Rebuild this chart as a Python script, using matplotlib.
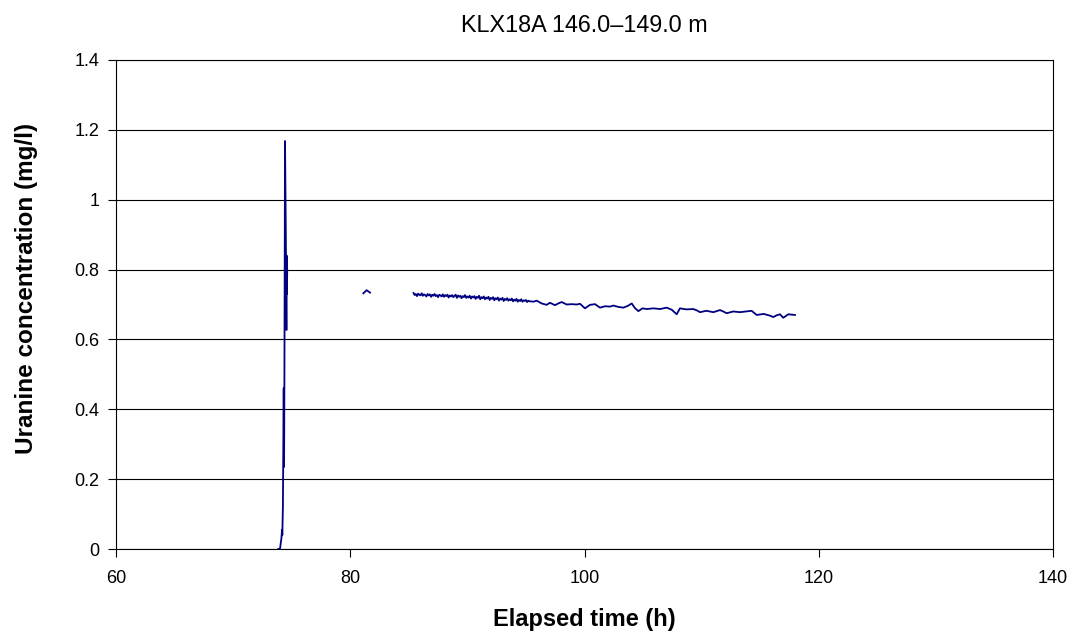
import matplotlib
matplotlib.use("Agg")
import matplotlib.pyplot as plt
from matplotlib.ticker import FuncFormatter

plt.rcParams['font.family'] = ['Liberation Sans', 'DejaVu Sans']

title = "KLX18A 146.0\u2013149.0 m"
xlabel = "Elapsed time (h)"
ylabel = "Uranine concentration (mg/l)"
line_color = "#000080"

# breakthrough spike
t_spike = [73.85, 74.00, 74.12, 74.18, 74.20, 74.25, 74.32, 74.34, 74.35,
           74.38, 74.43, 74.50, 74.55, 74.57, 74.59, 74.62]
c_spike = [0.000, 0.000, 0.030, 0.055, 0.040, 0.120, 0.460, 0.300, 0.235,
           0.500, 1.168, 0.900, 0.627, 0.840, 0.730, 0.800]

# short segment
t_short = [81.12, 81.40, 81.69]
c_short = [0.732, 0.741, 0.734]

# main plateau (dense part)
t_dense = [85.4, 85.5, 85.6, 85.7, 85.8, 85.9, 86.0, 86.1, 86.2, 86.3,
           86.4, 86.5, 86.6, 86.7, 86.8, 86.9, 87.0, 87.1, 87.2, 87.3,
           87.4, 87.5, 87.6, 87.7, 87.8, 87.9, 88.0, 88.1, 88.2, 88.3,
           88.4, 88.5, 88.6, 88.7, 88.8, 88.9, 89.0, 89.1, 89.2, 89.3,
           89.4, 89.5, 89.6, 89.7, 89.8, 89.9, 90.0, 90.1, 90.2, 90.3,
           90.4, 90.5, 90.6, 90.7, 90.8, 90.9, 91.0, 91.1, 91.2, 91.3,
           91.4, 91.5, 91.6, 91.7, 91.8, 91.9, 92.0, 92.1, 92.2, 92.3,
           92.4, 92.5, 92.6, 92.7, 92.8, 92.9, 93.0, 93.1, 93.2, 93.3,
           93.4, 93.5, 93.6, 93.7, 93.8, 93.9, 94.0, 94.1, 94.2, 94.3,
           94.4, 94.5, 94.6, 94.7, 94.8, 94.9, 95.0, 95.1, 95.2, 95.3,
           95.4]
c_dense = [0.733, 0.727, 0.730, 0.724, 0.731, 0.728, 0.726, 0.732, 0.725, 0.729,
           0.727, 0.723, 0.730, 0.726, 0.729, 0.722, 0.728, 0.725, 0.730, 0.724,
           0.727, 0.721, 0.728, 0.726, 0.723, 0.729, 0.722, 0.727, 0.724, 0.728,
           0.720, 0.726, 0.723, 0.727, 0.721, 0.725, 0.728, 0.719, 0.726, 0.722,
           0.725, 0.718, 0.724, 0.721, 0.727, 0.719, 0.723, 0.720, 0.725, 0.717,
           0.723, 0.720, 0.724, 0.716, 0.722, 0.719, 0.725, 0.715, 0.721, 0.718,
           0.723, 0.715, 0.720, 0.717, 0.722, 0.713, 0.719, 0.716, 0.721, 0.712,
           0.718, 0.715, 0.720, 0.711, 0.717, 0.714, 0.719, 0.710, 0.716, 0.713,
           0.718, 0.711, 0.715, 0.712, 0.717, 0.709, 0.714, 0.711, 0.716, 0.708,
           0.713, 0.710, 0.715, 0.708, 0.712, 0.710, 0.713, 0.707, 0.711, 0.709,
           0.709]

# main plateau (sparse part)
t_sparse = [95.63, 95.92, 96.34, 96.77, 97.05, 97.48, 97.76, 98.05, 98.48, 98.90,
            99.33, 99.62, 100.04, 100.47, 100.90, 101.32, 101.75, 102.18, 102.46,
            102.90, 103.31, 103.70, 104.03, 104.30, 104.60, 104.95, 105.31, 105.90,
            106.45, 107.02, 107.45, 107.87, 108.15, 108.70, 109.29, 109.60, 109.86,
            110.40, 111.00, 111.57, 111.85, 112.14, 112.70, 113.28, 113.80, 114.27,
            114.70, 115.30, 115.84, 116.12, 116.40, 116.69, 116.97, 117.40, 117.97]
c_sparse = [0.708, 0.711, 0.703, 0.699, 0.705, 0.698, 0.703, 0.707, 0.700, 0.701,
            0.700, 0.702, 0.689, 0.699, 0.701, 0.691, 0.695, 0.694, 0.697,
            0.693, 0.691, 0.696, 0.703, 0.690, 0.681, 0.689, 0.687, 0.689,
            0.687, 0.691, 0.685, 0.672, 0.689, 0.686, 0.687, 0.683, 0.678,
            0.682, 0.678, 0.684, 0.680, 0.675, 0.680, 0.678, 0.680, 0.682,
            0.670, 0.673, 0.668, 0.664, 0.669, 0.672, 0.662, 0.672, 0.670]

x_ticks = [60, 80, 100, 120, 140]
y_ticks = [0, 0.2, 0.4, 0.6, 0.8, 1.0, 1.2, 1.4]

fig = plt.figure(figsize=(10.73, 6.32), dpi=100)
ax = fig.add_axes([116/1073, 1 - 549/632, (1053-116)/1073, (549-60)/632])

for t, c in [(t_spike, c_spike), (t_short, c_short),
             (t_dense + t_sparse, c_dense + c_sparse)]:
    ax.plot(t, c, color=line_color, lw=1.3)

ax.set_xlim(60, 140)
ax.set_ylim(0, 1.4)
ax.set_xticks(x_ticks)
ax.set_yticks(y_ticks)
ax.yaxis.set_major_formatter(FuncFormatter(lambda v, p: f"{v:g}"))
ax.grid(axis='y', color='black', lw=0.8)
ax.set_axisbelow(True)
for s in ax.spines.values():
    s.set_color('black')
    s.set_linewidth(0.8)
ax.tick_params(direction='out', length=6, width=0.8, labelsize=13, pad=6)
ax.tick_params(axis='x', pad=9)

ax.set_title(title, fontsize=16.8, pad=20)
ax.set_xlabel(xlabel, fontsize=17, fontweight='bold', labelpad=15)
ax.set_ylabel(ylabel, fontsize=17.5, fontweight='bold')
ax.yaxis.set_label_coords(-0.083, 0.532)

fig.savefig("out.png", dpi=100)
